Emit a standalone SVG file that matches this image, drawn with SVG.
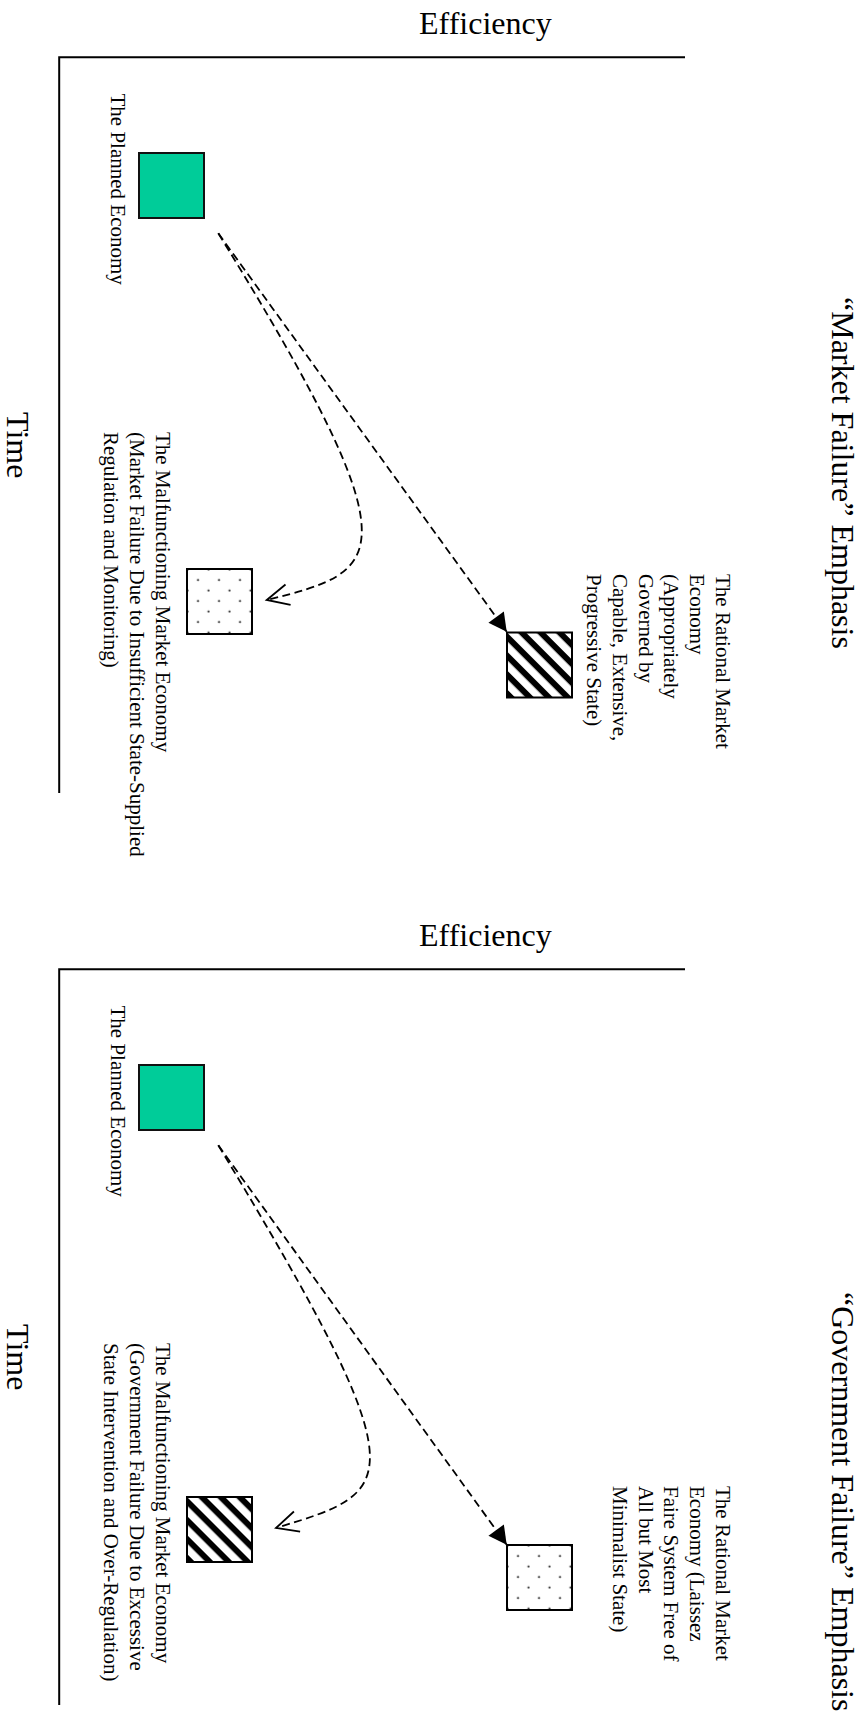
<svg xmlns="http://www.w3.org/2000/svg" width="859" height="1733" viewBox="0 0 859 1733">
<style>
.big{font-family:"Liberation Serif","Times New Roman",serif;font-size:32px;fill:#000}
.lbl{font-family:"Liberation Serif","Times New Roman",serif;font-size:21px;fill:#000}
.axis{stroke:#000;stroke-width:2;fill:none}
.planned{fill:#00CC99;stroke:#111;stroke-width:2}
.hatch{fill:url(#hatch);stroke:#000;stroke-width:2}
.dots{fill:url(#dots);stroke:#000;stroke-width:2}
.dash{fill:none;stroke:#000;stroke-width:1.8;stroke-dasharray:8 4.5}
</style>
<defs>
<pattern id="hatch" patternUnits="userSpaceOnUse" width="13.4" height="13.4" patternTransform="rotate(45)">
<rect width="13.4" height="13.4" fill="#fff"/>
<rect y="0" width="13.4" height="6" fill="#000"/>
</pattern>
<pattern id="dots" patternUnits="userSpaceOnUse" x="5.75" y="5.75" width="21" height="21">
<rect width="21" height="21" fill="#fff"/>
<circle cx="5.25" cy="5.25" r="1.1" fill="#222"/>
<circle cx="15.75" cy="15.75" r="1.1" fill="#222"/>
</pattern>
<marker id="arrowFilled" markerUnits="userSpaceOnUse" markerWidth="19" markerHeight="20" viewBox="0 0 19 20" refX="18" refY="10" orient="auto" overflow="visible">
<path d="M0,0.5 L18,10 L0,19.5 Z" fill="#000"/>
</marker>
<marker id="arrowOpen" markerUnits="userSpaceOnUse" markerWidth="26" markerHeight="26" viewBox="-2 -2 26 26" refX="22" refY="10.5" orient="auto" overflow="visible">
<path d="M0,0 L22,10.5 L0,21" fill="none" stroke="#000" stroke-width="1.8"/>
</marker>
</defs>
<rect width="859" height="1733" fill="#fff"/>

<!-- Panel 1 -->
<g id="p1-axes">
<path class="axis" d="M685,57.3 H59.2 V793"/>
<text class="big" x="419" y="34">Efficiency</text>
<text class="big" transform="translate(7,412) rotate(90)">Time</text>
</g>
<g id="p1-title">
<text class="big" transform="translate(832,297) rotate(90)">“Market Failure” Emphasis</text>
</g>
<g id="p1-planned">
<rect class="planned" x="139" y="153" width="65" height="65"/>
<text class="lbl" transform="translate(110.5,93.5) rotate(90)">The Planned Economy</text>
</g>
<g id="p1-rational">
<g transform="translate(507,632.5)"><rect class="hatch" width="65" height="65"/></g>
<text class="lbl" transform="translate(716,574) rotate(90)"><tspan x="0" y="0">The Rational Market</tspan><tspan x="0" dy="25.8">Economy</tspan><tspan x="0" dy="25.8">(Appropriately</tspan><tspan x="0" dy="25.8">Governed by</tspan><tspan x="0" dy="25.8">Capable, Extensive,</tspan><tspan x="0" dy="25.8">Progressive State)</tspan></text>
</g>
<g id="p1-malfunctioning">
<g transform="translate(187,569)"><rect class="dots" width="65" height="65"/></g>
<text class="lbl" transform="translate(155.5,432) rotate(90)"><tspan x="0" y="0">The Malfunctioning Market Economy</tspan><tspan x="0" dy="25.8">(Market Failure Due to Insufficient State-Supplied</tspan><tspan x="0" dy="25.8">Regulation and Monitoring)</tspan></text>
</g>

<!-- Panel 2 -->
<g id="p2-axes">
<path class="axis" d="M685,969.3 H59.2 V1705"/>
<text class="big" x="419" y="946">Efficiency</text>
<text class="big" transform="translate(7,1324) rotate(90)">Time</text>
</g>
<g id="p2-title">
<text class="big" transform="translate(832,1292) rotate(90)">“Government Failure” Emphasis</text>
</g>
<g id="p2-planned">
<rect class="planned" x="139" y="1065" width="65" height="65"/>
<text class="lbl" transform="translate(110.5,1005.5) rotate(90)">The Planned Economy</text>
</g>
<g id="p2-rational">
<g transform="translate(507,1545)"><rect class="dots" width="65" height="65"/></g>
<text class="lbl" transform="translate(716,1486) rotate(90)"><tspan x="0" y="0">The Rational Market</tspan><tspan x="0" dy="25.8">Economy (Laissez</tspan><tspan x="0" dy="25.8">Faire System Free of</tspan><tspan x="0" dy="25.8">All but Most</tspan><tspan x="0" dy="25.8">Minimalist State)</tspan></text>
</g>
<g id="p2-malfunctioning">
<g transform="translate(187,1497)"><rect class="hatch" width="65" height="65"/></g>
<text class="lbl" transform="translate(155.5,1343) rotate(90)"><tspan x="0" y="0">The Malfunctioning Market Economy</tspan><tspan x="0" dy="25.8">(Government Failure Due to Excessive</tspan><tspan x="0" dy="25.8">State Intervention and Over-Regulation)</tspan></text>
</g>

<g id="connectors">
<path class="dash" d="M218.3,233.3 L506.7,631.7" marker-end="url(#arrowFilled)"/>
<path class="dash" d="M218.3,233.3 C420,560 383,571 266.7,600" marker-end="url(#arrowOpen)"/>
<path class="dash" d="M218.3,1145.3 L506.7,1544.7" marker-end="url(#arrowFilled)"/>
<path class="dash" d="M218.3,1145.3 C425,1487 396,1491 276,1528" marker-end="url(#arrowOpen)"/>
</g>
</svg>
